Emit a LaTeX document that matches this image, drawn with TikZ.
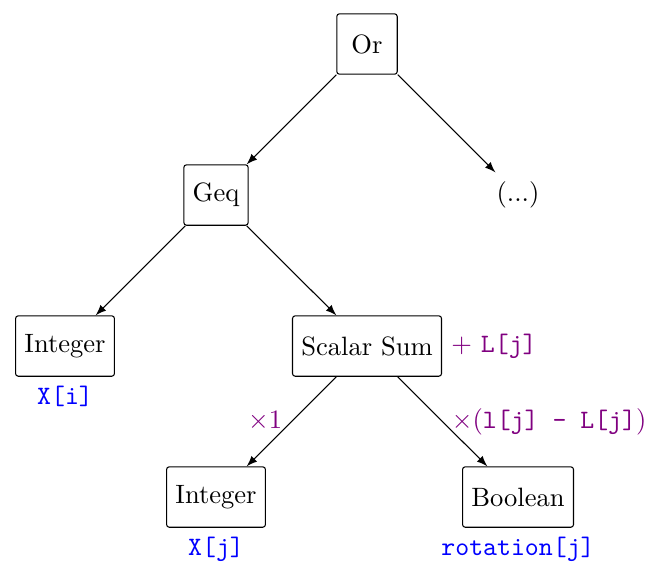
\documentclass[tikz,border=0pt]{standalone}
\begin{document}
\begin{tikzpicture}[
  box/.style={draw, rounded corners=1pt, minimum size=0.8cm},
  conn/.style={->, >=latex},
  var/.style={blue, font=\ttfamily},
  coef/.style={violet},
]
\useasboundingbox (-4.861,0.583) rectangle (3.695,-6.848);
\node[box] (or) at (0,0) {Or};
\node[box] (geq) at (-2,-2) {Geq};
\node (more) at (2,-2) {(...)};
\node[box, label={[var]below:{X[i]}}] (int1) at (-4,-4) {Integer};
\node[box, label={[coef]right:{$+$ \texttt{L[j]}}}] (sum) at (0,-4) {Scalar Sum};
\node[box, label={[var]below:{X[j]}}] (int2) at (-2,-6) {Integer};
\node[box, label={[var]below:{rotation[j]}}] (bool) at (2,-6) {Boolean};
\draw[conn] (or) -- (geq);
\draw[conn] (or) -- (more);
\draw[conn] (geq) -- (int1);
\draw[conn] (geq) -- (sum);
\draw[conn] (sum) -- node[coef, left] {$\times 1$} (int2);
\draw[conn] (sum) -- node[coef, right] {$\times$(\texttt{l[j] - L[j]})} (bool);
\end{tikzpicture}
\end{document}
